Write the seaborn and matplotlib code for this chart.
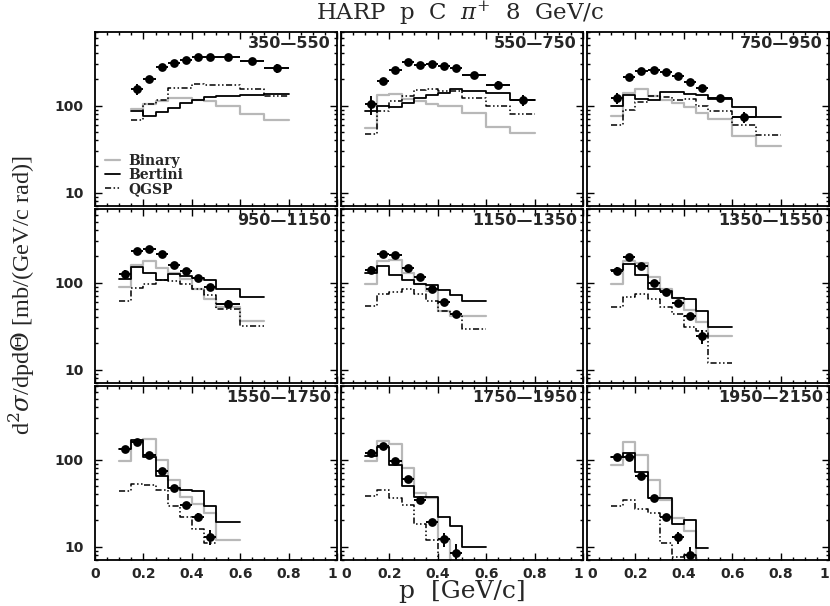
import numpy as np
import pandas as pd
import matplotlib
matplotlib.use("Agg")
import matplotlib.pyplot as plt
import seaborn as sns
from matplotlib.font_manager import FontProperties
from matplotlib.ticker import MultipleLocator, LogLocator, NullFormatter, FixedLocator, FixedFormatter

# ---------------- data ----------------
EDGES = [0.10, 0.15, 0.20, 0.25, 0.30, 0.35, 0.40, 0.45, 0.50, 0.60, 0.70, 0.80]

ANGLES = ["350—550", "550—750", "750—950",
          "950—1150", "1150—1350", "1350—1550",
          "1550—1750", "1750—1950", "1950—2150"]

DATA_START = [1, 0, 0, 0, 0, 0, 0, 0, 0]
DATA = [
    [154, 201, 280, 309, 335, 357, 363, 363, 329, 268],
    [103, 189, 258, 315, 293, 304, 283, 268, 224, 173, 115],
    [121, 214, 247, 258, 240, 220, 184, 157, 121, 74],
    [125, 229, 246, 215, 157, 136, 114, 89, 57],
    [140, 213, 205, 148, 116, 84, 59, 43],
    [137, 196, 155, 100, 78, 58, 41, 24],
    [133, 159, 114, 73, 47, 30, 22, 13],
    [120, 143, 96, 59, 34, 19, 12.2, 8.5],
    [107, 107, 64, 36, 22, 12.7, 8],
]
DATA_RELERR = [
    [0.15, 0.08, 0.05, 0.04, 0.04, 0.04, 0.04, 0.04, 0.05, 0.12],
    [0.25, 0.06, 0.04, 0.04, 0.04, 0.04, 0.04, 0.04, 0.04, 0.10, 0.15],
    [0.15, 0.05, 0.04, 0.04, 0.04, 0.04, 0.04, 0.04, 0.05, 0.15],
    [0.12, 0.04, 0.04, 0.04, 0.04, 0.04, 0.04, 0.05, 0.10],
    [0.10, 0.04, 0.04, 0.05, 0.05, 0.06, 0.06, 0.08],
    [0.10, 0.04, 0.04, 0.05, 0.05, 0.07, 0.08, 0.18],
    [0.08, 0.04, 0.04, 0.05, 0.05, 0.07, 0.10, 0.20],
    [0.10, 0.04, 0.04, 0.05, 0.08, 0.10, 0.18, 0.25],
    [0.08, 0.04, 0.05, 0.08, 0.08, 0.15, 0.25],
]

MC_START = [1, 0, 0, 0, 0, 0, 0, 0, 0]
BINARY = [
    [92, 105, 112, 121, 123, 117, 112, 100, 80, 69],
    [55, 132, 137, 120, 112, 103, 98, 100, 82, 57, 48],
    [76, 140, 156, 129, 117, 107, 96, 82, 70, 45, 34],
    [89, 160, 178, 146, 127, 111, 85, 64, 52, 36],
    [96, 179, 183, 127, 97, 80, 47, 41, 41],
    [96, 179, 167, 116, 85, 66, 48, 35, 24],
    [96, 164, 174, 100, 58, 37, 31, 24, 12],
    [97, 164, 150, 80, 41, 36, 12, 5],
    [87, 161, 114, 58, 34, 21, 15, 5],
]
BERTINI = [
    [87, 75, 84, 94, 106, 117, 125, 129, 132, 137],
    [86, 98, 96, 106, 121, 132, 138, 154, 147, 138, 117],
    [100, 132, 120, 117, 143, 143, 137, 131, 120, 97, 73],
    [111, 150, 127, 106, 125, 119, 114, 106, 85, 68],
    [127, 155, 122, 108, 96, 93, 83, 72, 62],
    [140, 164, 122, 84, 80, 67, 65, 47, 31],
    [131, 168, 107, 64, 47, 45, 44, 29, 19],
    [109, 139, 86, 50, 37, 37, 22, 17, 9.8],
    [107, 120, 71, 36, 36, 18, 20, 9.5],
]
QGSP = [
    [69, 103, 115, 158, 158, 176, 173, 173, 154, 129],
    [47, 86, 112, 129, 151, 154, 147, 147, 123, 98, 79],
    [60, 90, 109, 129, 126, 115, 120, 100, 87, 60, 46],
    [61, 87, 95, 108, 104, 97, 85, 71, 50, 32],
    [54, 74, 78, 84, 74, 62, 47, 43, 29],
    [53, 68, 74, 65, 52, 43, 31, 28, 12],
    [43, 52, 51, 45, 29, 22, 16, 11],
    [38, 45, 36, 30, 18, 12, 5],
    [29, 34, 27, 24, 11, 7.5, 8, 5],
]

XTICKS = [0, 0.2, 0.4, 0.6, 0.8, 1.0]
XTICKLABELS = ["0", "0.2", "0.4", "0.6", "0.8", "1"]
YTICKS = [10, 100]
YTICKLABELS = ["10", "100"]

# ---------------- style ----------------
sns.set_theme(style="ticks")
plt.rcParams["font.family"] = ["DejaVu Serif", "DejaVu Sans"]
plt.rcParams["mathtext.fontset"] = "dejavuserif"

W, H = 830, 606
fig = plt.figure(figsize=(W / 100, H / 100), dpi=100)

col_left = [95, 341, 587]
row_top = [32, 209, 386]
pw, ph = 242, 174

GRAY = "#b8b8b8"
QG_DASH = (0, (4, 1.6, 1, 1.6, 1, 1.6))
tickfont = FontProperties(family="DejaVu Sans", weight="bold", size=10)

for i in range(9):
    r, c = divmod(i, 3)
    ax = fig.add_axes([col_left[c] / W, 1 - (row_top[r] + ph) / H, pw / W, ph / H])
    ax.set_yscale("log")

    ms = MC_START[i]
    for vals, color, ls, lw, lab in [
        (BINARY[i], GRAY, "-", 1.6, "Binary"),
        (BERTINI[i], "black", "-", 1.3, "Bertini"),
        (QGSP[i], "black", QG_DASH, 1.1, "QGSP"),
    ]:
        n = len(vals)
        xe = EDGES[ms:ms + n + 1]
        ye = list(vals) + [vals[-1]]
        df = pd.DataFrame({"p": xe, "v": ye})
        sns.lineplot(data=df, x="p", y="v", ax=ax, color=color, linewidth=lw,
                     linestyle=ls, drawstyle="steps-post", estimator=None,
                     sort=False, label=(lab if i == 0 else None), legend=False)

    ds = DATA_START[i]
    n = len(DATA[i])
    lo = np.array(EDGES[ds:ds + n])
    hi = np.array(EDGES[ds + 1:ds + n + 1])
    centers = (lo + hi) / 2
    vals = np.array(DATA[i], dtype=float)
    yerr = vals * np.array(DATA_RELERR[i])
    ax.errorbar(centers, vals, xerr=(hi - lo) / 2, yerr=yerr, fmt="none",
                ecolor="black", elinewidth=1.4, capsize=0, zorder=4)
    sns.scatterplot(x=centers, y=vals, ax=ax, color="black", s=40,
                    edgecolor="black", linewidth=0, zorder=5, legend=False)

    ax.set_xlim(0, 1)
    ax.set_ylim(7, 700)
    ax.set_xlabel("")
    ax.set_ylabel("")
    ax.xaxis.set_major_locator(FixedLocator(XTICKS))
    ax.xaxis.set_minor_locator(MultipleLocator(0.05))
    ax.yaxis.set_major_locator(FixedLocator(YTICKS))
    ax.yaxis.set_minor_locator(LogLocator(base=10, subs=np.arange(2, 10)))
    ax.yaxis.set_minor_formatter(NullFormatter())
    ax.tick_params(which="both", direction="in", top=True, right=True,
                   bottom=True, left=True, width=1.0, color="black")
    ax.tick_params(which="major", length=5)
    ax.tick_params(which="minor", length=2.5)
    if r == 2:
        ax.xaxis.set_major_formatter(FixedFormatter(XTICKLABELS))
        ax.tick_params(axis="x", pad=5)
        for k, tk in enumerate(ax.xaxis.get_major_ticks()):
            tk.label1.set_fontproperties(tickfont)
            if k == 0 and c > 0:
                tk.label1.set_horizontalalignment("left")
            if k == len(XTICKS) - 1:
                tk.label1.set_horizontalalignment("right")
    else:
        ax.set_xticklabels([])
    if c == 0:
        ax.yaxis.set_major_formatter(FixedFormatter(YTICKLABELS))
        for tk in ax.yaxis.get_major_ticks():
            tk.label1.set_fontproperties(tickfont)
        ax.tick_params(axis="y", pad=8)
    else:
        ax.set_yticklabels([])
    for sp in ax.spines.values():
        sp.set_linewidth(1.3)
        sp.set_color("black")
        sp.set_visible(True)

    ax.text(0.975, 0.975, ANGLES[i], transform=ax.transAxes, ha="right", va="top",
            family="DejaVu Sans", weight="bold", size=11.5)

    if i == 0:
        ax.legend(loc="lower left", frameon=False, handlelength=1.1,
                  handletextpad=0.6, labelspacing=0.0, borderaxespad=0.3,
                  prop=dict(family="DejaVu Serif", weight="bold", size=10))

fig.text(0.554, 0.977, r"HARP  p  C  $\pi^{+}$  8  GeV/c", ha="center", va="center",
         family="DejaVu Serif", size=16.5)
fig.text(0.557, 0.024, "p  [GeV/c]", ha="center", va="center",
         family="DejaVu Serif", size=18)
fig.text(0.026, 0.513, r"d$^{2}\sigma$/dpd$\Theta$ [mb/(GeV/c rad)]", ha="center",
         va="center", rotation=90, family="Liberation Serif", size=17.5)

fig.savefig("out.png", dpi=100, facecolor="white")
